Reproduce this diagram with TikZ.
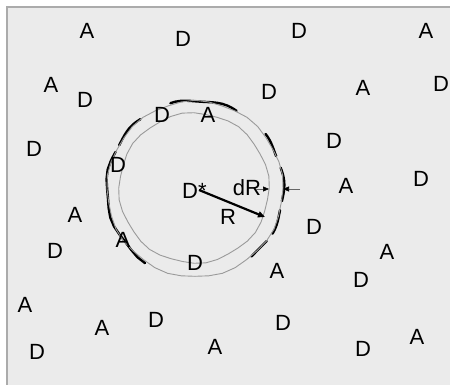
\documentclass[tikz,border=0pt]{standalone}
\usepackage{fontspec}
\setmainfont{Liberation Sans}
\usetikzlibrary{arrows.meta}
\definecolor{bgfill}{HTML}{EBEBEB}
\definecolor{bordergray}{HTML}{ABABAB}
\definecolor{ringgray}{HTML}{9A9A9A}
\tikzset{
  lbl/.style={font=\fontsize{22}{22}\selectfont, inner sep=0pt, text=black},
  ring/.style={draw=ringgray, line width=0.9pt, line join=round},
  blackring/.style={draw=black, line width=2.4pt, line cap=round, line join=round},
  radiusarrow/.style={line width=2.2pt, -{Triangle[length=7pt,width=6pt]}},
  dimarrow/.style={draw=black!60, line width=0.6pt, -{Triangle[length=6pt,width=5pt,color=black]}}
}
\begin{document}
\begin{tikzpicture}[x=1pt,y=-1pt]
\useasboundingbox (0,0) rectangle (450,385);
% panel
\fill[bgfill] (7,7) rectangle (452,387);
\draw[bordergray, line width=2pt] (7,387) -- (7,7) -- (452,7);
% black partial ring (drawn below the grey ring)
\def\cx{195}\def\cy{189}
\foreach \a/\b in {62/106, 128/150, 155/236, 22/38, -8/14, -30/-14, -50/-36}{
  \draw[blackring] plot[domain=\a:\b, samples=14]
    ({\cx + (88.5+1.0*sin(11*\x+40))*cos(\x)}, {\cy - (88.5+1.0*sin(11*\x+40))*sin(\x)});
}
% outer and inner grey rings
\draw[ring] plot[domain=0:360, samples=41]
  ({\cx + (88+0.7*sin(9*\x))*cos(\x)}, {\cy - (88+0.7*sin(9*\x))*sin(\x)}) -- cycle;
\draw[ring] plot[domain=0:360, samples=41]
  ({194 + (75+0.8*sin(8*\x+20))*cos(\x)}, {188 - (75+0.8*sin(8*\x+20))*sin(\x)}) -- cycle;
% letters
\node[lbl] (a1) at (87,31) {A};
\node[lbl] (d1) at (183,39) {D};
\node[lbl] (d2) at (299,31) {D};
\node[lbl] (a2) at (426,31) {A};
\node[lbl] (a3) at (51,85) {A};
\node[lbl] (d3) at (85,100) {D};
\node[lbl] (d4) at (269,92) {D};
\node[lbl] (a4) at (363,88) {A};
\node[lbl] (d5) at (441,84) {D};
\node[lbl] (d6) at (162,115) {D};
\node[lbl] (a5) at (208,115) {A};
\node[lbl] (d7) at (34,149) {D};
\node[lbl] (d8) at (334,141) {D};
\node[lbl] (d9) at (118,165) {D};
\node[lbl, anchor=west] (dstar) at (182,191) {D*};
\node[lbl] (dR) at (247,188) {dR};
\node[lbl] (a6) at (346,186) {A};
\node[lbl] (d10) at (421,179) {D};
\node[lbl] (a7) at (75,215) {A};
\node[lbl] (R) at (228,217) {R};
\node[lbl] (d11) at (314,227) {D};
\node[lbl] (d12) at (55,251) {D};
\node[lbl] (a8) at (123,240) {A};
\node[lbl] (a9) at (387,252) {A};
\node[lbl] (d13) at (195,263) {D};
\node[lbl] (a10) at (277,271) {A};
\node[lbl] (d14) at (361,280) {D};
\node[lbl] (a11) at (25,305) {A};
\node[lbl] (a12) at (102,328) {A};
\node[lbl] (d15) at (156,320) {D};
\node[lbl] (d16) at (283,323) {D};
\node[lbl] (d17) at (363,349) {D};
\node[lbl] (a13) at (417,337) {A};
\node[lbl] (d18) at (37,352) {D};
\node[lbl] (a14) at (215,347) {A};
% radius arrow
\coordinate (Rstart) at (199,190);
\coordinate (Rtip) at (265,217);
\draw[radiusarrow] (Rstart) -- (Rtip);
% dR dimension arrows
\coordinate (inL) at (256,189);
\coordinate (inR) at (269,189);
\coordinate (outR) at (300,189);
\coordinate (outL) at (283,189);
\draw[dimarrow] (inL) -- (inR);
\draw[dimarrow] (outR) -- (outL);
\end{tikzpicture}
\end{document}
